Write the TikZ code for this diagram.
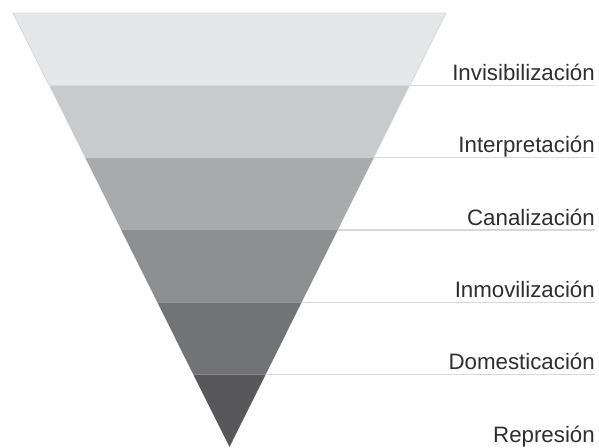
\documentclass[tikz,border=0pt]{standalone}
\usepackage{fontspec}
\setmainfont{Liberation Sans}
\usetikzlibrary{calc}
\definecolor{b1}{HTML}{E6E7E9}
\definecolor{b2}{HTML}{C9CACC}
\definecolor{b3}{HTML}{A9AAAC}
\definecolor{b4}{HTML}{8D8E90}
\definecolor{b5}{HTML}{727375}
\definecolor{b6}{HTML}{58585A}
\definecolor{sep}{HTML}{D8D8D8}
\definecolor{txt}{HTML}{2E2E2E}
\tikzset{
  lbl/.style={anchor=base east, inner sep=0pt, text=txt, font=\fontsize{22.3}{26}\selectfont},
  sepline/.style={draw=sep, line width=1.4pt},
  edge/.style={draw=sep, line width=0.8pt}
}
\begin{document}
\begin{tikzpicture}[x=1pt,y=-1pt]
\useasboundingbox (0,0) rectangle (599,447);
\coordinate (TL) at (13,13);
\coordinate (TR) at (446,13);
\coordinate (A) at (229.5,447);
\foreach \k in {0,...,5}{
  \pgfmathsetmacro{\t}{\k/6}
  \coordinate (L\k) at ($(TL)!\t!(A)$);
  \coordinate (R\k) at ($(TR)!\t!(A)$);
}
\fill[b1] (L0) -- (R0) -- (R1) -- (L1) -- cycle;
\fill[b2] (L1) -- (R1) -- (R2) -- (L2) -- cycle;
\fill[b3] (L2) -- (R2) -- (R3) -- (L3) -- cycle;
\fill[b4] (L3) -- (R3) -- (R4) -- (L4) -- cycle;
\fill[b5] (L4) -- (R4) -- (R5) -- (L5) -- cycle;
\fill[b6] (L5) -- (R5) -- (A) -- cycle;
\draw[edge] (L1) -- (L0) -- (R0) -- (R1);
\path let \p1=(R1) in coordinate (E1) at (595,\y1);
\path let \p1=(R2) in coordinate (E2) at (595,\y1);
\path let \p1=(R3) in coordinate (E3) at (595,\y1);
\path let \p1=(R4) in coordinate (E4) at (595,\y1);
\path let \p1=(R5) in coordinate (E5) at (595,\y1);
\path let \p1=(A) in coordinate (E6) at (595,\y1);
\foreach \k in {1,...,5}{
  \draw[sepline] (R\k) -- (E\k);
}
\node[lbl] (n1) at ($(E1)+(0,-5)$) {Invisibilización};
\node[lbl] (n2) at ($(E2)+(0,-5)$) {Interpretación};
\node[lbl] (n3) at ($(E3)+(0,-5)$) {Canalización};
\node[lbl] (n4) at ($(E4)+(0,-5)$) {Inmovilización};
\node[lbl] (n5) at ($(E5)+(0,-5)$) {Domesticación};
\node[lbl] (n6) at ($(E6)+(0,-5)$) {Represión};
\end{tikzpicture}
\end{document}
